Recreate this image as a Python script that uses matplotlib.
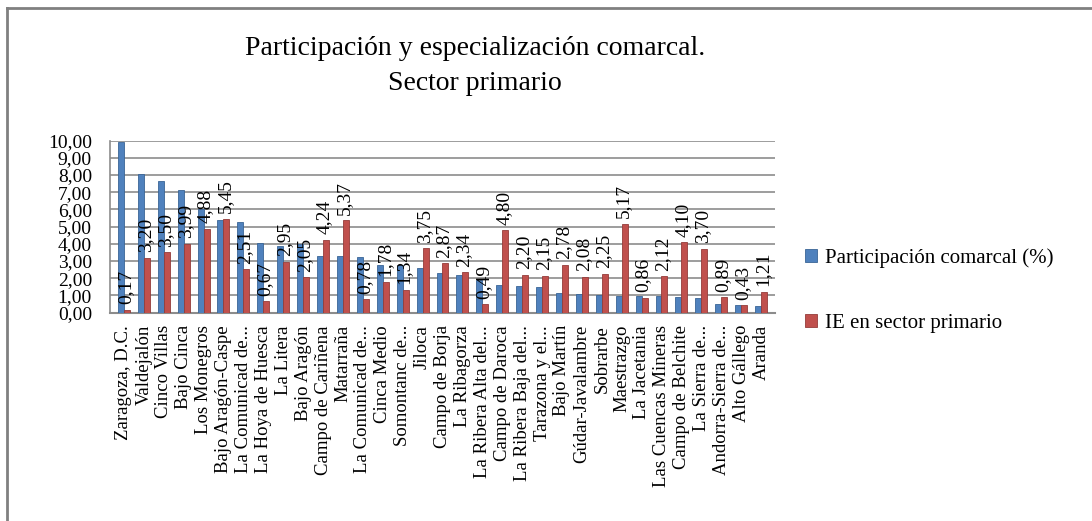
import numpy as np
import matplotlib.pyplot as plt

plt.rcParams['font.family'] = ['Liberation Serif', 'DejaVu Serif']

#%% Data
comarcas = ['Zaragoza, D.C.', 'Valdejalón', 'Cinco Villas', 'Bajo Cinca',
            'Los Monegros', 'Bajo Aragón-Caspe', 'La Comunicad de...',
            'La Hoya de Huesca', 'La Litera', 'Bajo Aragón',
            'Campo de Cariñena', 'Matarraña', 'La Comunicad de...',
            'Cinca Medio', 'Somontanc de...', 'Jiloca', 'Campo de Borja',
            'La Ribagorza', 'La Ribera Alta del...', 'Campo de Daroca',
            'La Ribera Baja del...', 'Tarazona y el...', 'Bajo Martín',
            'Gúdar-Javalambre', 'Sobrarbe', 'Maestrazgo', 'La Jacetania',
            'Las Cuencas Mineras', 'Campo de Belchite', 'La Sierra de...',
            'Andorra-Sierra de...', 'Alto Gállego', 'Aranda']
participacion = [9.95, 8.07, 7.63, 7.12, 6.05, 5.40, 5.25, 4.05, 3.90, 3.97,
                 3.32, 3.32, 3.22, 2.78, 2.76, 2.62, 2.29, 2.17, 1.87, 1.63,
                 1.53, 1.49, 1.14, 1.08, 1.02, 0.98, 0.94, 0.94, 0.88, 0.84,
                 0.50, 0.44, 0.40]
ie_primario = [0.17, 3.20, 3.50, 3.99, 4.88, 5.45, 2.51, 0.67, 2.95, 2.05,
               4.24, 5.37, 0.78, 1.78, 1.34, 3.75, 2.87, 2.34, 0.49, 4.80,
               2.20, 2.15, 2.78, 2.08, 2.25, 5.17, 0.86, 2.12, 4.10, 3.70,
               0.89, 0.43, 1.21]
yticks = np.arange(0, 11, 1)

azul = '#4F81BD'
rojo = '#C0504D'

def coma(v):
    return '{:.2f}'.format(v).replace('.', ',')

#%% Figure
fig = plt.figure(figsize=(10.92, 5.21), dpi=100)
ax = fig.add_axes([0.1007, 0.40, 0.609, 0.33])

x = np.arange(len(comarcas))
w = 0.3
b1 = ax.bar(x - w/2, participacion, w, color=azul, edgecolor='#3A6596',
            linewidth=0.6, label='Participación comarcal (%)', zorder=3)
b2 = ax.bar(x + w/2, ie_primario, w, color=rojo, edgecolor='#943C3A',
            linewidth=0.6, label='IE en sector primario', zorder=3)

for xi, v in zip(x, ie_primario):
    ax.annotate(coma(v), (xi + w/2, v), xytext=(-1, 4), textcoords='offset points',
                rotation=90, ha='center', va='bottom', fontsize=14, zorder=4)

ax.set_xlim(-0.7, 32.7)
ax.set_ylim(0, 10)
ax.set_yticks(yticks)
ax.set_yticklabels([coma(t) for t in yticks], fontsize=14)
ax.yaxis.grid(True, color='#8C8C8C', linewidth=1.2, zorder=0)
ax.set_xticks(x)
ax.set_xticklabels(comarcas, rotation=90, fontsize=13.5, ha='center', va='top')
ax.tick_params(axis='both', length=0)
ax.tick_params(axis='y', pad=13)
ax.tick_params(axis='x', pad=9)
for s in ['top', 'right']:
    ax.spines[s].set_visible(False)
ax.spines['left'].set_color('#8C8C8C')
ax.spines['bottom'].set_color('#8C8C8C')
ax.spines['left'].set_linewidth(1.2)
ax.spines['bottom'].set_linewidth(1.5)

fig.text(0.435, 0.93, 'Participación y especialización comarcal.\nSector primario',
         ha='center', va='top', fontsize=20, linespacing=1.5)

fig.legend(handles=[b1, b2], loc='upper left', bbox_to_anchor=(0.72, 0.56),
           frameon=False, fontsize=15, handlelength=0.6, handleheight=0.6,
           handletextpad=0.35, labelspacing=2.2)

# marco del grafico
fig.add_artist(plt.Line2D([0.0064, 1.0], [0.984, 0.984], color='#808080', lw=2,
                          transform=fig.transFigure))
fig.add_artist(plt.Line2D([0.0064, 0.0064], [0.0, 0.984], color='#808080', lw=2,
                          transform=fig.transFigure))

fig.savefig('out.png', dpi=100)
